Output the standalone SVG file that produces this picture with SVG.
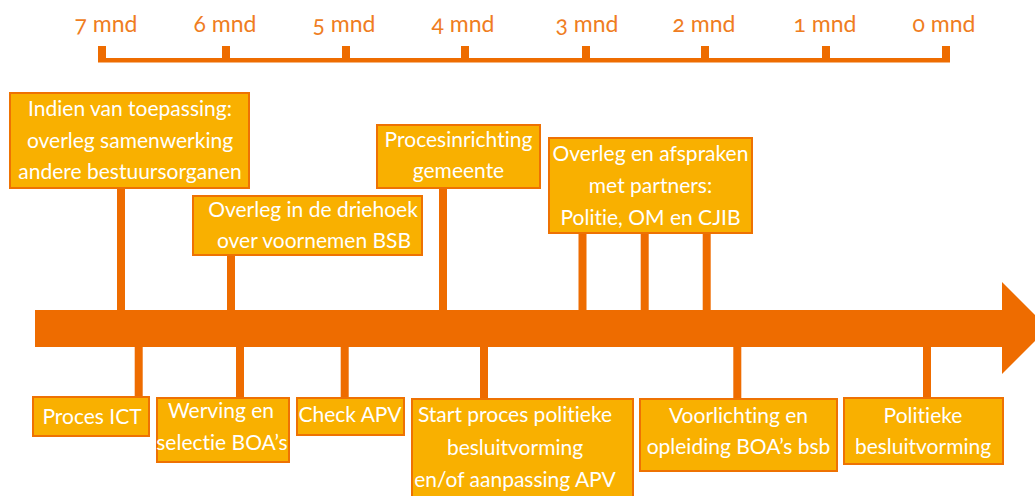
<svg xmlns="http://www.w3.org/2000/svg" width="1035" height="496" viewBox="0 0 1035 496">
<style>
.box{fill:#F9B000;stroke:#EE7203;stroke-width:2}
.t{font-family:Lato,"Open Sans",sans-serif;font-size:21px;fill:#ffffff;text-anchor:middle;font-variant-ligatures:none}
.s{font-family:Lato,"Open Sans",sans-serif;font-size:23px;fill:#EF7D22;text-anchor:middle;font-variant-numeric:oldstyle-nums}
.o{fill:#EE6C00}
</style>
<rect width="1035" height="496" fill="#ffffff"/>
<g id="scale">
<rect class="o" x="98" y="58" width="852" height="4.5"/>
<rect class="o" x="98" y="46" width="8" height="14"/>
<rect class="o" x="222" y="46" width="8" height="14"/>
<rect class="o" x="342" y="46" width="8" height="14"/>
<rect class="o" x="461" y="46" width="8" height="14"/>
<rect class="o" x="582" y="46" width="8" height="14"/>
<rect class="o" x="701" y="46" width="8" height="14"/>
<rect class="o" x="822" y="46" width="8" height="14"/>
<rect class="o" x="942" y="46" width="8" height="14"/>
<text class="s" x="106" y="32">7 mnd</text>
<text class="s" x="225" y="32">6 mnd</text>
<text class="s" x="344" y="32">5 mnd</text>
<text class="s" x="463" y="32">4 mnd</text>
<text class="s" x="587" y="32">3 mnd</text>
<text class="s" x="704" y="32">2 mnd</text>
<text class="s" x="825" y="32">1 mnd</text>
<text class="s" x="944" y="32">0 mnd</text>
</g>
<g id="timeline">
<path class="o" d="M35,310 H1002 V282 L1048,328 L1002,374 V347 H35 Z"/>
</g>
<g id="connectors">
<rect class="o" x="117" y="188" width="8" height="122"/>
<rect class="o" x="227" y="255" width="8" height="55"/>
<rect class="o" x="439" y="188" width="8" height="122"/>
<rect class="o" x="578.5" y="233" width="8" height="77"/>
<rect class="o" x="640.7" y="233" width="8" height="77"/>
<rect class="o" x="702.7" y="233" width="8" height="77"/>
<rect class="o" x="134.7" y="347" width="8" height="50"/>
<rect class="o" x="236" y="347" width="8" height="51"/>
<rect class="o" x="340.7" y="347" width="8" height="51"/>
<rect class="o" x="480" y="347" width="8" height="52"/>
<rect class="o" x="733.3" y="347" width="8" height="52"/>
<rect class="o" x="923" y="347" width="8" height="51"/>
</g>
<g id="n-indien">
<rect class="box" x="10" y="93" width="239" height="95"/>
<text class="t" x="130" y="115.5">Indien van toepassing:</text>
<text class="t" x="130" y="147.5">overleg samenwerking</text>
<text class="t" x="130" y="179.3">andere bestuursorganen</text>
</g>
<g id="n-driehoek">
<rect class="box" x="193" y="196" width="229" height="59"/>
<text class="t" x="313" y="216.7">Overleg in de driehoek</text>
<text class="t" x="314" y="248.3">over voornemen BSB</text>
</g>
<g id="n-procesinrichting">
<rect class="box" x="377" y="125" width="163" height="63"/>
<text class="t" x="458.5" y="146.7">Procesinrichting</text>
<text class="t" x="458.5" y="178.3">gemeente</text>
</g>
<g id="n-partners">
<rect class="box" x="549" y="138" width="203" height="95"/>
<text class="t" x="650.5" y="161">Overleg en afspraken</text>
<text class="t" x="650.5" y="193">met partners:</text>
<text class="t" x="650.5" y="225">Politie, OM en CJIB</text>
</g>
<g id="n-ict">
<rect class="box" x="33" y="397" width="116" height="39"/>
<text class="t" x="92" y="424">Proces ICT</text>
</g>
<g id="n-werving">
<rect class="box" x="157" y="398" width="132" height="64"/>
<text class="t" x="221" y="417.7">Werving en</text>
<text class="t" x="222" y="450">selectie BOA’s</text>
</g>
<g id="n-apv">
<rect class="box" x="297" y="398" width="107" height="37"/>
<text class="t" x="350" y="422">Check APV</text>
</g>
<g id="n-start">
<rect class="box" x="412" y="399" width="221" height="100"/>
<text class="t" x="515" y="422.3">Start proces politieke</text>
<text class="t" x="515" y="455">besluitvorming</text>
<text class="t" x="515" y="486.7">en/of aanpassing APV</text>
</g>
<g id="n-voorlichting">
<rect class="box" x="640" y="399" width="197" height="72"/>
<text class="t" x="738.5" y="422.7">Voorlichting en</text>
<text class="t" x="738.5" y="454.3">opleiding BOA’s bsb</text>
</g>
<g id="n-politieke">
<rect class="box" x="844" y="398" width="159" height="66"/>
<text class="t" x="923" y="422.7">Politieke</text>
<text class="t" x="923" y="454.3">besluitvorming</text>
</g>
</svg>
